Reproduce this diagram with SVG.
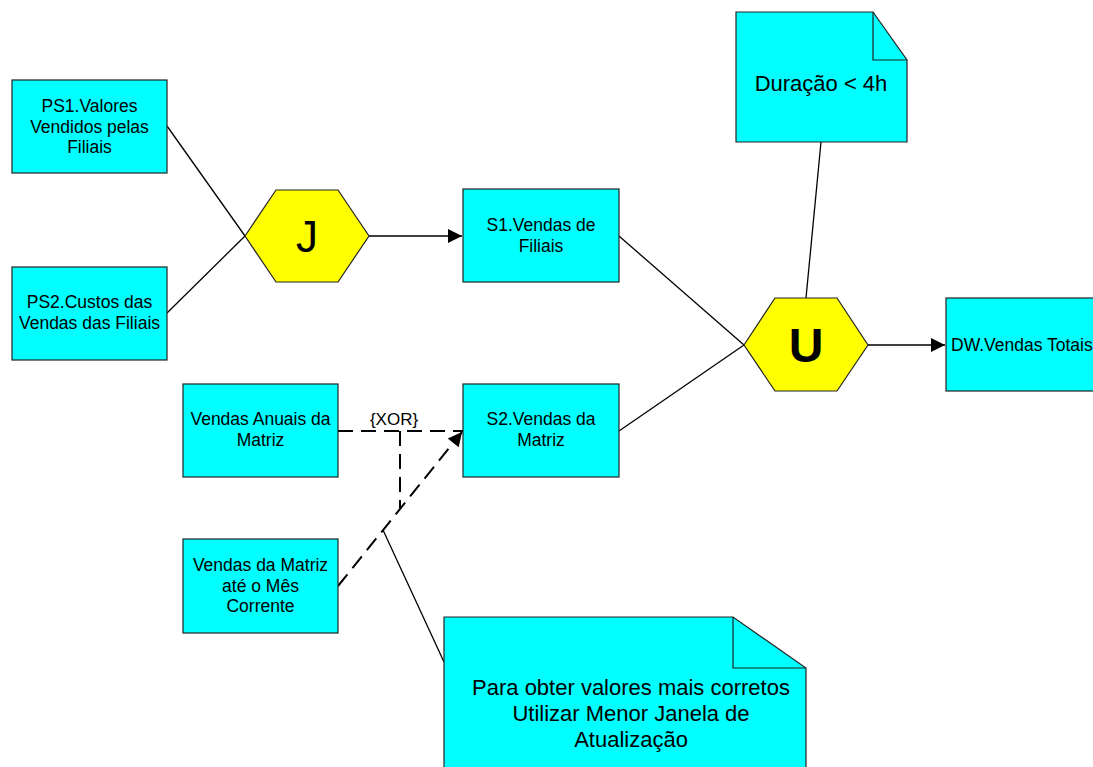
<svg xmlns="http://www.w3.org/2000/svg" width="1093" height="767" viewBox="0 0 1093 767">
<style>
.box{fill:#00ffff;stroke:#222;stroke-width:1.2}
.hex{fill:#ffff00;stroke:#222;stroke-width:1.2}
.t{font-family:"Liberation Sans",Arial,sans-serif;font-size:17.5px;fill:#000;text-anchor:middle}
.n{font-family:"Liberation Sans",Arial,sans-serif;font-size:22px;fill:#000;text-anchor:middle}
.ln{stroke:#000;stroke-width:1.3;fill:none}
.ds{stroke:#000;stroke-width:2;fill:none;stroke-dasharray:15 8}
</style>
<defs>
<marker id="arr" viewBox="0 0 10 10" refX="10" refY="5" markerWidth="21" markerHeight="14" markerUnits="userSpaceOnUse" orient="auto"><path d="M0,0 L10,5 L0,10 z" fill="#000"/></marker>
</defs>
<rect width="1093" height="767" fill="#fff"/>
<g id="connectors">
<line class="ln" x1="167" y1="126" x2="245" y2="236"/>
<line class="ln" x1="167" y1="313" x2="245" y2="236"/>
<line class="ln" x1="369" y1="236" x2="462" y2="236" marker-end="url(#arr)"/>
<line class="ln" x1="619" y1="236" x2="744" y2="345"/>
<line class="ln" x1="619" y1="431" x2="744" y2="345"/>
<line class="ln" x1="868" y1="345" x2="945" y2="345" marker-end="url(#arr)"/>
<line class="ln" x1="821" y1="142" x2="806" y2="298"/>
<line class="ln" x1="383" y1="530" x2="444" y2="662"/>
<line class="ds" x1="338" y1="431" x2="463" y2="431"/>
<line class="ds" x1="400" y1="431" x2="400" y2="508"/>
<line class="ds" x1="338" y1="586" x2="462" y2="432" marker-end="url(#arr)"/>
<text class="t" x="394" y="425" style="font-size:17px">{XOR}</text>
</g>
<g id="ps1"><rect class="box" x="12" y="80" width="155" height="93"/><text class="t" x="89.5" y="112">PS1.Valores</text><text class="t" x="89.5" y="132.5">Vendidos pelas</text><text class="t" x="89.5" y="153">Filiais</text></g>
<g id="ps2"><rect class="box" x="12" y="267" width="155" height="93"/><text class="t" x="89.5" y="308">PS2.Custos das</text><text class="t" x="89.5" y="329">Vendas das Filiais</text></g>
<g id="j"><polygon class="hex" points="245,236 276,190 338,190 369,236 338,282 276,282"/><text class="t" x="307" y="252" style="font-size:44px">J</text></g>
<g id="s1"><rect class="box" x="463" y="189" width="156" height="93"/><text class="t" x="541" y="231">S1.Vendas de</text><text class="t" x="541" y="252">Filiais</text></g>
<g id="s2"><rect class="box" x="463" y="384" width="156" height="93"/><text class="t" x="541" y="425">S2.Vendas da</text><text class="t" x="541" y="446">Matriz</text></g>
<g id="u"><polygon class="hex" points="744,345 775,298 837,298 868,345 837,391 775,391"/><text class="t" x="806" y="362" style="font-size:48px;font-weight:bold">U</text></g>
<g id="dw"><rect class="box" x="946" y="298" width="155" height="93"/><text class="t" x="951" y="351" style="text-anchor:start">DW.Vendas Totais</text></g>
<g id="anuais"><rect class="box" x="183" y="384" width="155" height="93"/><text class="t" x="260.5" y="425">Vendas Anuais da</text><text class="t" x="260.5" y="446">Matriz</text></g>
<g id="matriz"><rect class="box" x="183" y="539" width="155" height="94"/><text class="t" x="260.5" y="571">Vendas da Matriz</text><text class="t" x="260.5" y="591.5">até o Mês</text><text class="t" x="260.5" y="612">Corrente</text></g>
<g id="note1"><path class="box" d="M736,12 L873,12 L907,60 L907,142 L736,142 Z"/><path class="ln" d="M873,12 L873,60 L907,60" style="stroke:#222;stroke-width:1.2"/><text class="n" x="821" y="91">Duração &lt; 4h</text></g>
<g id="note2"><path class="box" d="M444,617 L733,617 L806,668 L806,780 L444,780 Z"/><path class="ln" d="M733,617 L733,668 L806,668" style="stroke:#222;stroke-width:1.2"/><text class="n" x="631" y="695">Para obter valores mais corretos</text><text class="n" x="631" y="721">Utilizar Menor Janela de</text><text class="n" x="631" y="747">Atualização</text></g>
</svg>
